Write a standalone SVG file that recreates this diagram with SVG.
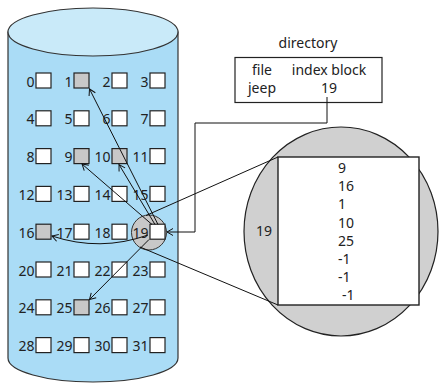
<svg xmlns="http://www.w3.org/2000/svg" width="439" height="383" viewBox="0 0 439 383">
  <defs>
    <marker id="arrow" markerUnits="userSpaceOnUse" markerWidth="10" markerHeight="10" viewBox="-8 -5 10 10" refX="0" refY="0" orient="auto">
      <path d="M-6,-3.5 L0,0 L-6,3.5" fill="none" stroke="#111" stroke-width="1"/>
    </marker>
  </defs>
  <style>
    text { font-family: "Noto Sans", "Open Sans", sans-serif; font-size: 14px; fill: #222; }
    .lbl { text-anchor: end; }
    .mid { text-anchor: middle; }
    .blk { fill: #fff; stroke: #222; stroke-width: 1.2; }
    .used { fill: #c8c8c8; }
    .ln { fill: none; stroke: #111; stroke-width: 1; }
    .arr { fill: none; stroke: #111; stroke-width: 1; marker-end: url(#arrow); }
  </style>

  <!-- disk cylinder -->
  <g id="disk">
    <path d="M8,32 L8,358 A85,24 0 0 0 178,358 L178,32 Z" fill="#aadcf6" stroke="#333" stroke-width="1.2"/>
    <ellipse cx="93" cy="32" rx="85" ry="24" fill="#c9eaf9" stroke="#333" stroke-width="1.2"/>
  </g>

  <!-- highlight ring around block 19 -->
  <g id="zoom-ring">
    <circle cx="149" cy="232.5" r="17.5" fill="#c8c8c8" stroke="#333" stroke-width="1"/>
  </g>

  <!-- disk blocks 0..31 -->
  <g id="blocks">
    <g id="b0"><rect class="blk" x="36" y="73" width="15" height="15"/><text class="lbl" x="34.5" y="86.5">0</text></g>
    <g id="b1"><rect class="blk used" x="74" y="73" width="15" height="15"/><text class="lbl" x="72.5" y="86.5">1</text></g>
    <g id="b2"><rect class="blk" x="112" y="73" width="15" height="15"/><text class="lbl" x="110.5" y="86.5">2</text></g>
    <g id="b3"><rect class="blk" x="150" y="73" width="15" height="15"/><text class="lbl" x="148.5" y="86.5">3</text></g>

    <g id="b4"><rect class="blk" x="36" y="110.8" width="15" height="15"/><text class="lbl" x="34.5" y="124.3">4</text></g>
    <g id="b5"><rect class="blk" x="74" y="110.8" width="15" height="15"/><text class="lbl" x="72.5" y="124.3">5</text></g>
    <g id="b6"><rect class="blk" x="112" y="110.8" width="15" height="15"/><text class="lbl" x="110.5" y="124.3">6</text></g>
    <g id="b7"><rect class="blk" x="150" y="110.8" width="15" height="15"/><text class="lbl" x="148.5" y="124.3">7</text></g>

    <g id="b8"><rect class="blk" x="36" y="148.6" width="15" height="15"/><text class="lbl" x="34.5" y="162.1">8</text></g>
    <g id="b9"><rect class="blk used" x="74" y="148.6" width="15" height="15"/><text class="lbl" x="72.5" y="162.1">9</text></g>
    <g id="b10"><rect class="blk used" x="112" y="148.6" width="15" height="15"/><text class="lbl" x="110.5" y="162.1">10</text></g>
    <g id="b11"><rect class="blk" x="150" y="148.6" width="15" height="15"/><text class="lbl" x="148.5" y="162.1">11</text></g>

    <g id="b12"><rect class="blk" x="36" y="186.4" width="15" height="15"/><text class="lbl" x="34.5" y="199.9">12</text></g>
    <g id="b13"><rect class="blk" x="74" y="186.4" width="15" height="15"/><text class="lbl" x="72.5" y="199.9">13</text></g>
    <g id="b14"><rect class="blk" x="112" y="186.4" width="15" height="15"/><text class="lbl" x="110.5" y="199.9">14</text></g>
    <g id="b15"><rect class="blk" x="150" y="186.4" width="15" height="15"/><text class="lbl" x="148.5" y="199.9">15</text></g>

    <g id="b16"><rect class="blk used" x="36" y="224.2" width="15" height="15"/><text class="lbl" x="34.5" y="237.7">16</text></g>
    <g id="b17"><rect class="blk" x="74" y="224.2" width="15" height="15"/><text class="lbl" x="72.5" y="237.7">17</text></g>
    <g id="b18"><rect class="blk" x="112" y="224.2" width="15" height="15"/><text class="lbl" x="110.5" y="237.7">18</text></g>
    <g id="b19"><rect class="blk" x="150" y="224.2" width="15" height="15"/><text class="lbl" x="148.5" y="237.7">19</text></g>

    <g id="b20"><rect class="blk" x="36" y="262" width="15" height="15"/><text class="lbl" x="34.5" y="275.5">20</text></g>
    <g id="b21"><rect class="blk" x="74" y="262" width="15" height="15"/><text class="lbl" x="72.5" y="275.5">21</text></g>
    <g id="b22"><rect class="blk" x="112" y="262" width="15" height="15"/><text class="lbl" x="110.5" y="275.5">22</text></g>
    <g id="b23"><rect class="blk" x="150" y="262" width="15" height="15"/><text class="lbl" x="148.5" y="275.5">23</text></g>

    <g id="b24"><rect class="blk" x="36" y="299.8" width="15" height="15"/><text class="lbl" x="34.5" y="313.3">24</text></g>
    <g id="b25"><rect class="blk used" x="74" y="299.8" width="15" height="15"/><text class="lbl" x="72.5" y="313.3">25</text></g>
    <g id="b26"><rect class="blk" x="112" y="299.8" width="15" height="15"/><text class="lbl" x="110.5" y="313.3">26</text></g>
    <g id="b27"><rect class="blk" x="150" y="299.8" width="15" height="15"/><text class="lbl" x="148.5" y="313.3">27</text></g>

    <g id="b28"><rect class="blk" x="36" y="337.6" width="15" height="15"/><text class="lbl" x="34.5" y="351.1">28</text></g>
    <g id="b29"><rect class="blk" x="74" y="337.6" width="15" height="15"/><text class="lbl" x="72.5" y="351.1">29</text></g>
    <g id="b30"><rect class="blk" x="112" y="337.6" width="15" height="15"/><text class="lbl" x="110.5" y="351.1">30</text></g>
    <g id="b31"><rect class="blk" x="150" y="337.6" width="15" height="15"/><text class="lbl" x="148.5" y="351.1">31</text></g>
  </g>

  <!-- directory entry -->
  <g id="directory">
    <text class="mid" x="308" y="48">directory</text>
    <rect x="235" y="57.5" width="147" height="45" fill="#fff" stroke="#222" stroke-width="1.2"/>
    <text class="mid" x="262" y="75">file</text>
    <text class="mid" x="329" y="75">index block</text>
    <text class="mid" x="262" y="93">jeep</text>
    <text class="mid" x="329" y="93">19</text>
  </g>

  <!-- enlarged index block -->
  <g id="index-block">
    <ellipse cx="341" cy="231.5" rx="97" ry="104.5" fill="#d0d0d0" stroke="#222" stroke-width="1.2"/>
    <rect x="278" y="157" width="141" height="148" fill="#fff" stroke="#222" stroke-width="1.4"/>
    <text class="mid" x="264" y="236">19</text>
    <text x="338" y="173">9</text>
    <text x="338" y="191">16</text>
    <text x="338" y="209">1</text>
    <text x="338" y="228">10</text>
    <text x="338" y="246">25</text>
    <text x="338" y="264">-1</text>
    <text x="338" y="282">-1</text>
    <text x="342" y="300">-1</text>
  </g>

  <!-- connectors -->
  <g id="connectors">
    <line class="ln" x1="146" y1="215.5" x2="278" y2="157"/>
    <line class="ln" x1="140" y1="247" x2="278" y2="305"/>
    <path class="arr" d="M327,97 L327,123 L195,123 L195,232 L167,232"/>
    <path class="arr" d="M158,224.5 L89.5,89"/>
    <path class="arr" d="M152,224.5 L82,164"/>
    <path class="arr" d="M155,224.5 L119,164.5"/>
    <path class="arr" d="M148,235 Q100,252 52,236"/>
    <path class="arr" d="M149,239.5 L89.5,299.5"/>
  </g>
</svg>
